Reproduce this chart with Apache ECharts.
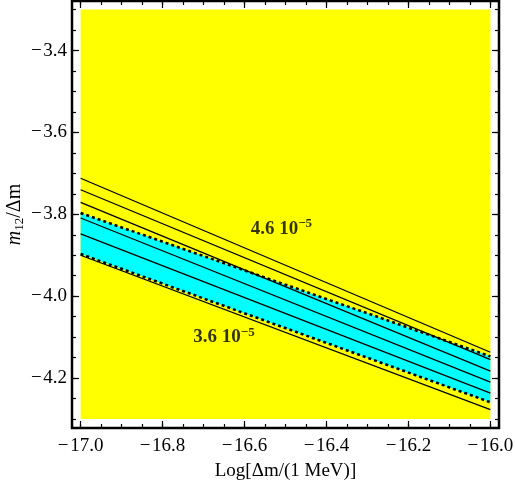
<!DOCTYPE html>
<html>
<head>
<meta charset="utf-8">
<script src="https://cdn.jsdelivr.net/npm/echarts@6/dist/echarts.min.js"></script>
<style>
  html, body { margin: 0; padding: 0; background: #fff; }
  #chart { width: 515px; height: 481px; }
</style>
</head>
<body>
<div id="chart"></div>
<script>
// x positions where the contour lines were read
var xs = [-17.0, -16.0];
// solid contour lines (m12/Δm at each x)
var line1 = [-3.712, -4.137];
var line2 = [-3.740, -4.155];
var line3 = [-3.771, -4.183];
var line4 = [-3.809, -4.210];
var line5 = [-3.848, -4.237];
var line6 = [-3.900, -4.277];
// dotted borders of the cyan band
var bandTop = [-3.797, -4.147];
var bandBottom = [-3.897, -4.259];
// yellow region
var regionX = [-17.0, -16.0];
var regionY = [-4.3, -3.3];
// ticks
var xMajor = [-17.0, -16.8, -16.6, -16.4, -16.2, -16.0];
var yMajor = [-4.2, -4.0, -3.8, -3.6, -3.4];
var xMinor = [];
for (var i = 0; i <= 20; i++) xMinor.push(-17 + i * 0.05);
var yMinor = [];
for (var j = 0; j <= 20; j++) yMinor.push(-4.3 + j * 0.05);
// contour labels
var contourLabels = [
  { x: -16.51, y: -3.835, text: '4.6 10', exp: '−5' },
  { x: -16.65, y: -4.101, text: '3.6 10', exp: '−5' }
];

var FONT = 'Liberation Serif';
var chart = echarts.init(document.getElementById('chart'));

function pairs(ys) {
  return xs.map(function (x, k) { return [x, ys[k]]; });
}
function fmt(v) {
  return '\u2212\u200a' + Math.abs(v).toFixed(1);
}

var xBase = { type: 'value', min: -17.021, max: -15.979, scale: true,
  axisLine: { show: false }, splitLine: { show: false } };
var yBase = { type: 'value', min: -4.322, max: -3.279, scale: true,
  axisLine: { show: false }, splitLine: { show: false } };

function tickAxis(base, pos, vals, len, withLabel, extra) {
  var a = Object.assign({}, base, {
    position: pos,
    axisTick: { show: true, inside: true, length: len, customValues: vals,
      lineStyle: { color: '#000', width: 1.2 } },
    axisLabel: { show: false }
  });
  if (withLabel) {
    a.axisLabel = { show: true, customValues: vals, formatter: fmt,
      color: '#000', fontFamily: FONT, fontSize: 19, margin: pos === 'bottom' ? 9 : 5 };
  }
  return Object.assign(a, extra || {});
}

var solidLines = [line1, line2, line3, line4, line5, line6].map(function (l) {
  return {
    type: 'line', data: pairs(l), symbol: 'none', silent: true, z: 5,
    lineStyle: { color: '#000', width: 1.3 }
  };
});
var dottedLines = [bandTop, bandBottom].map(function (l) {
  return {
    type: 'line', data: pairs(l), symbol: 'none', silent: true, z: 6,
    lineStyle: { color: '#000', width: 2.6, type: [3, 3] }
  };
});

chart.setOption({
  animation: false,
  grid: { left: 72, right: 16, top: 1, bottom: 53, show: true, containLabel: false,
    outerBoundsMode: 'none',
    borderColor: '#000', borderWidth: 2.5, backgroundColor: '#fff' },
  xAxis: [
    tickAxis(xBase, 'bottom', xMajor, 7, true, {
      name: 'Log[Δm/(1 MeV)]', nameLocation: 'middle', nameGap: 34, nameMoveOverlap: false,
      nameTextStyle: { fontFamily: FONT, fontSize: 19, color: '#000' }
    }),
    tickAxis(xBase, 'bottom', xMinor, 4, false),
    tickAxis(xBase, 'top', xMajor, 7, false),
    tickAxis(xBase, 'top', xMinor, 4, false)
  ],
  yAxis: [
    tickAxis(yBase, 'left', yMajor, 7, true, {
      name: '{i|m}{s|12}{n|/Δm}', nameLocation: 'middle', nameGap: 46, nameRotate: 90,
      nameMoveOverlap: false,
      nameTextStyle: { rich: {
        i: { fontFamily: FONT, fontStyle: 'italic', fontSize: 20, color: '#000', lineHeight: 22 },
        s: { fontFamily: FONT, fontSize: 13, color: '#000', verticalAlign: 'bottom', lineHeight: 22 },
        n: { fontFamily: FONT, fontSize: 20, color: '#000', lineHeight: 22 }
      } }
    }),
    tickAxis(yBase, 'left', yMinor, 4, false),
    tickAxis(yBase, 'right', yMajor, 7, false),
    tickAxis(yBase, 'right', yMinor, 4, false)
  ],
  series: [
    {
      type: 'custom', silent: true, z: 1,
      data: [[regionX[0], regionY[0]]],
      renderItem: function (params, api) {
        var p0 = api.coord([regionX[0], regionY[1]]);
        var p1 = api.coord([regionX[1], regionY[0]]);
        return { type: 'rect', shape: { x: p0[0], y: p0[1], width: p1[0] - p0[0], height: p1[1] - p0[1] },
          style: { fill: '#ffff00' } };
      }
    },
    {
      type: 'custom', silent: true, z: 2,
      data: [[xs[0], bandTop[0]]],
      renderItem: function (params, api) {
        var pts = [];
        xs.forEach(function (x, k) { pts.push(api.coord([x, bandTop[k]])); });
        for (var k = xs.length - 1; k >= 0; k--) pts.push(api.coord([xs[k], bandBottom[k]]));
        return { type: 'polygon', shape: { points: pts }, style: { fill: '#00ffff' } };
      }
    }
  ].concat(solidLines, dottedLines, [
    {
      type: 'scatter', symbolSize: 0, silent: true, z: 10,
      data: contourLabels.map(function (c) { return { value: [c.x, c.y], name: c.text, exp: c.exp }; }),
      label: {
        show: true, position: 'inside',
        formatter: function (p) { return '{a|' + p.data.name + '}{b|' + p.data.exp + '}'; },
        rich: {
          a: { fontFamily: FONT, fontWeight: 'bold', fontSize: 19, color: '#000', lineHeight: 22 },
          b: { fontFamily: FONT, fontWeight: 'bold', fontSize: 13, color: '#000', verticalAlign: 'top', lineHeight: 22 }
        }
      }
    }
  ])
});
</script>
</body>
</html>
